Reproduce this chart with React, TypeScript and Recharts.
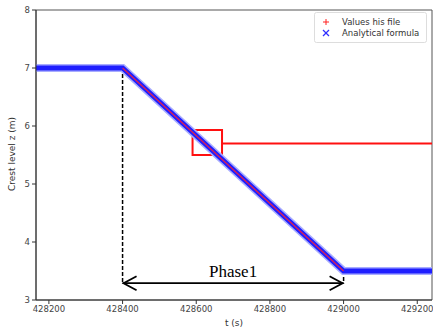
import React from 'react'
import {
  ComposedChart, Line, XAxis, YAxis, ReferenceLine, ReferenceArea, Legend,
} from 'recharts'

// breakpoints
const analyticT = [428165, 428400, 429000, 429240]
const analyticZ = [7, 7, 3.5, 3.5]
const fileT = [428400, 429000]
const fileZ = [7, 3.5]

const xTicks = [428200, 428400, 428600, 428800, 429000, 429200]
const yTicks = [3, 4, 5, 6, 7, 8]

const phaseStart = 428400
const phaseEnd = 429000
const arrowZ = 3.29
const boxT = [428590, 428670]
const boxZ = [5.5, 5.93]
const jumpZ = 5.7

const analytic = analyticT.map((t, i) => ({ t, z: analyticZ[i] }))
const file = fileT.map((t, i) => ({ t, z: fileZ[i] }))

const tickFont = { fontFamily: 'DejaVu Sans', fontSize: 8.5, fill: '#444' }

const ArrowShape = (props: any) => {
  const { x1, y1, x2, y2 } = props
  const h = 14
  const w = 7
  return (
    <g>
      <line x1={x1} y1={y1} x2={x2} y2={y2} stroke="#000" strokeWidth={1.8} />
      <polyline points={`${x1 + h},${y1 - w} ${x1 + 1},${y1} ${x1 + h},${y1 + w}`} fill="none" stroke="#000" strokeWidth={1.8} />
      <polyline points={`${x2 - h},${y2 - w} ${x2 - 1},${y2} ${x2 - h},${y2 + w}`} fill="none" stroke="#000" strokeWidth={1.8} />
      <text x={(x1 + x2) / 2} y={y1 - 6} textAnchor="middle" fontFamily="Liberation Serif" fontSize={17} fill="#000">Phase1</text>
    </g>
  )
}

const LegendBox = () => (
  <svg width={114} height={32} style={{ position: 'absolute', left: 314, top: 12 }}>
    <rect x={0.5} y={0.5} width={112} height={30} rx={2} fill="#fff" stroke="#ddd" />
    <line x1={9} y1={10} x2={15} y2={10} stroke="#ff2020" strokeWidth={1} />
    <line x1={12} y1={7} x2={12} y2={13} stroke="#ff2020" strokeWidth={1} />
    <line x1={9} y1={18} x2={15} y2={24} stroke="#3030ff" strokeWidth={1.2} />
    <line x1={15} y1={18} x2={9} y2={24} stroke="#3030ff" strokeWidth={1.2} />
    <text x={28} y={13} fontFamily="DejaVu Sans" fontSize={8.5} fill="#333">Values his file</text>
    <text x={28} y={24} fontFamily="DejaVu Sans" fontSize={8.5} fill="#333">Analytical formula</text>
  </svg>
)

export default function App() {
  return (
    <div style={{ position: 'absolute', left: 0, top: 0, width: 433, height: 327, background: '#fff' }}>
      <ComposedChart width={433} height={327} margin={{ top: 10, right: 1, bottom: 0, left: 0 }}>
        <XAxis
          type="number" dataKey="t" domain={[428165, 429240]} ticks={xTicks} allowDataOverflow
          tick={tickFont} tickSize={4} axisLine={{ stroke: '#333' }} tickLine={{ stroke: '#333' }}
          height={27} interval={0}
          label={{ value: 't (s)', position: 'insideBottom', offset: 1, style: { fontFamily: 'DejaVu Sans', fontSize: 9, fill: '#333' } }}
        />
        <YAxis
          type="number" dataKey="z" domain={[3, 8]} ticks={yTicks} allowDataOverflow
          tick={tickFont} tickSize={4} axisLine={{ stroke: '#333' }} tickLine={{ stroke: '#333' }}
          width={36}
          label={{ value: 'Crest level z (m)', angle: -90, position: 'insideLeft', offset: 12, dy: 36, style: { fontFamily: 'DejaVu Sans', fontSize: 9, fill: '#333' } }}
        />
        <ReferenceArea x1={428165} x2={429240} y1={3} y2={8} fill="none" stroke="#555" strokeWidth={1} />
        <ReferenceLine segment={[{ x: phaseStart, y: 7 }, { x: phaseStart, y: arrowZ }]} stroke="#000" strokeWidth={1.5} strokeDasharray="4 2" />
        <ReferenceLine segment={[{ x: phaseEnd, y: 3.5 }, { x: phaseEnd, y: arrowZ }]} stroke="#000" strokeWidth={1.5} strokeDasharray="4 2" />
        <Line data={analytic} dataKey="z" stroke="#a8acff" strokeWidth={8} dot={false} isAnimationActive={false} legendType="none" />
        <Line data={analytic} dataKey="z" stroke="#1e1eff" strokeWidth={5} dot={false} isAnimationActive={false} name="Analytical formula" />
        <Line data={file} dataKey="z" stroke="#e02050" strokeWidth={1.2} dot={false} isAnimationActive={false} name="Values his file" />
        <ReferenceLine segment={[{ x: boxT[1], y: jumpZ }, { x: 429240, y: jumpZ }]} stroke="#ff1010" strokeWidth={2} />
        <ReferenceArea x1={boxT[0]} x2={boxT[1]} y1={boxZ[0]} y2={boxZ[1]} fill="none" stroke="#ff1010" strokeWidth={2} />
        <ReferenceLine segment={[{ x: phaseStart, y: arrowZ }, { x: phaseEnd, y: arrowZ }]} shape={ArrowShape} />
        <Legend content={() => null} />
      </ComposedChart>
      <LegendBox />
    </div>
  )
}
